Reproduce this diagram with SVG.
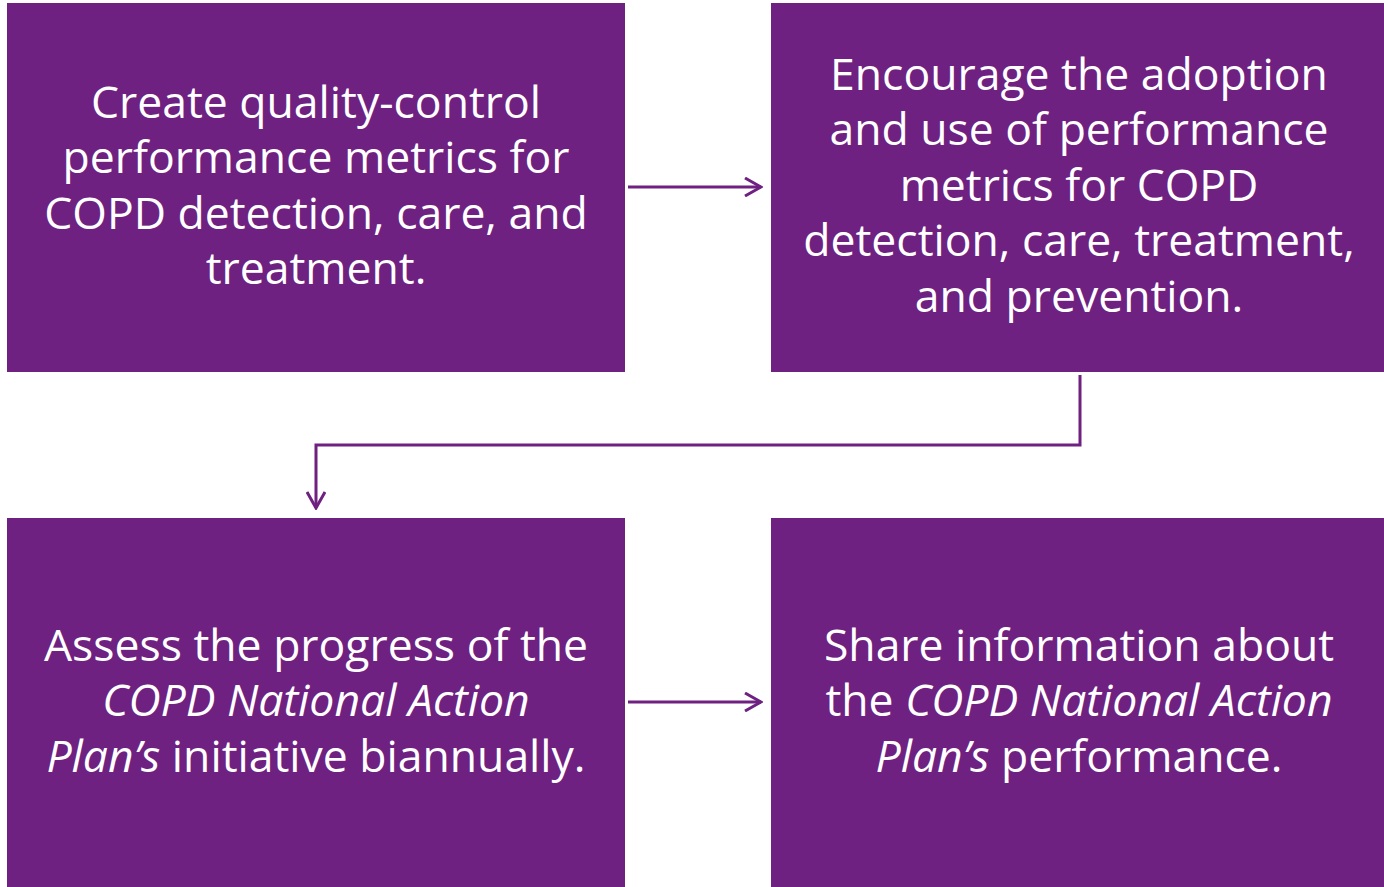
<svg xmlns="http://www.w3.org/2000/svg" width="1384" height="887" viewBox="0 0 1384 887">
<style>
.box{fill:#6E2180;}
.t{font-family:"Open Sans","Noto Sans",sans-serif;font-size:44.5px;fill:#FFFFFF;text-anchor:middle;}
.i{font-style:italic;}
.c{fill:none;stroke:#6E2180;stroke-width:3;}
</style>
<defs>
<marker id="ah" viewBox="0 0 20 20" refX="18" refY="10" markerWidth="20" markerHeight="20" markerUnits="userSpaceOnUse" orient="auto">
<path d="M2,1 L18,10 L2,19" fill="none" stroke="#6E2180" stroke-width="3"/>
</marker>
</defs>
<rect width="1384" height="887" fill="#FFFFFF"/>
<g id="node1">
<rect class="box" x="7" y="3" width="618" height="369"/>
<text class="t" x="316" y="118">Create quality-control</text>
<text class="t" x="316" y="173">performance metrics for</text>
<text class="t" x="316" y="229">COPD detection, care, and</text>
<text class="t" x="316" y="284">treatment.</text>
</g>
<g id="node2">
<rect class="box" x="771" y="3" width="613" height="369"/>
<text class="t" x="1079" y="90">Encourage the adoption</text>
<text class="t" x="1079" y="145">and use of performance</text>
<text class="t" x="1079" y="201">metrics for COPD</text>
<text class="t" x="1079" y="256">detection, care, treatment,</text>
<text class="t" x="1079" y="312">and prevention.</text>
</g>
<g id="node3">
<rect class="box" x="7" y="518" width="618" height="369"/>
<text class="t" x="316" y="661">Assess the progress of the</text>
<text class="t i" x="316" y="716">COPD National Action</text>
<text class="t" x="316" y="772"><tspan class="i">Plan’s</tspan> initiative biannually.</text>
</g>
<g id="node4">
<rect class="box" x="771" y="518" width="613" height="369"/>
<text class="t" x="1079" y="661">Share information about</text>
<text class="t" x="1079" y="716">the <tspan class="i">COPD National Action</tspan></text>
<text class="t" x="1079" y="772"><tspan class="i">Plan’s</tspan> performance.</text>
</g>
<g id="connectors">
<path class="c" d="M628,187 L761,187" marker-end="url(#ah)"/>
<path class="c" d="M1080,375 L1080,445 L316,445 L316,508" marker-end="url(#ah)"/>
<path class="c" d="M628,702 L761,702" marker-end="url(#ah)"/>
</g>
</svg>
